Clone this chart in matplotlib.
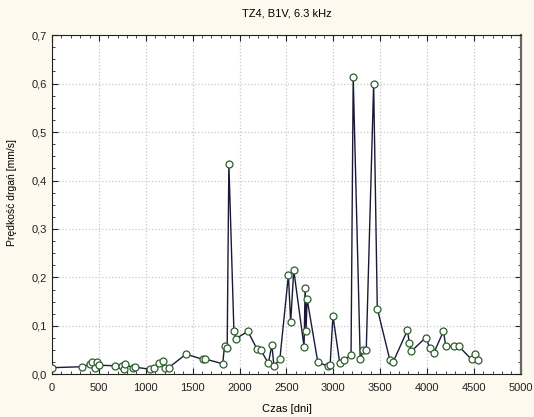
import matplotlib
matplotlib.use('Agg')
import matplotlib.pyplot as plt
from matplotlib.ticker import MultipleLocator, FuncFormatter

# data
czas = [0, 324, 400, 424, 460, 485, 499, 674, 745, 763, 781, 859, 884,
        1041, 1084, 1144, 1184, 1209, 1244, 1430, 1610, 1633, 1820, 1840,
        1868, 1886, 1940, 1963, 2089, 2184, 2228, 2307, 2345, 2367, 2430,
        2521, 2545, 2578, 2688, 2699, 2709, 2720, 2834, 2938, 2966, 2996,
        3068, 3109, 3189, 3212, 3287, 3319, 3351, 3430, 3469, 3604, 3636,
        3790, 3811, 3832, 3986, 4029, 4071, 4174, 4200, 4289, 4339, 4474,
        4513, 4542]
predkosc = [0.014, 0.016, 0.021, 0.026, 0.013, 0.026, 0.019, 0.018, 0.018,
            0.011, 0.021, 0.014, 0.015, 0.011, 0.014, 0.023, 0.028, 0.014,
            0.014, 0.042, 0.031, 0.032, 0.022, 0.059, 0.055, 0.435, 0.089,
            0.074, 0.089, 0.053, 0.050, 0.023, 0.061, 0.017, 0.032, 0.205,
            0.108, 0.215, 0.057, 0.179, 0.090, 0.156, 0.026, 0.017, 0.020,
            0.121, 0.024, 0.029, 0.040, 0.613, 0.031, 0.050, 0.050, 0.599,
            0.136, 0.029, 0.025, 0.091, 0.065, 0.048, 0.076, 0.055, 0.044,
            0.089, 0.058, 0.058, 0.058, 0.031, 0.043, 0.029]

plt.rcParams['font.family'] = ['Liberation Sans', 'DejaVu Sans']
bg = '#fdf9ef'

fig = plt.figure(figsize=(5.34, 4.17), dpi=100, facecolor=bg)
ax = fig.add_axes([0.0974, 0.102, 0.878, 0.814])
ax.set_facecolor('white')

ax.plot(czas, predkosc, color='#1a1a38', linewidth=1.0, marker='o',
        markersize=5, markerfacecolor='white', markeredgecolor='#2e5e2e',
        markeredgewidth=0.9, zorder=3)

ax.set_xlim(0, 5000)
ax.set_ylim(0, 0.7)
ax.xaxis.set_major_locator(MultipleLocator(500))
ax.xaxis.set_minor_locator(MultipleLocator(100))
ax.yaxis.set_major_locator(MultipleLocator(0.1))
ax.yaxis.set_minor_locator(MultipleLocator(0.025))
ax.yaxis.set_major_formatter(FuncFormatter(lambda v, p: ('%.1f' % v).replace('.', ',')))

ax.tick_params(which='both', direction='in', top=True, right=True,
               labelsize=8, colors='#222222')
ax.tick_params(axis='x', pad=6)
ax.tick_params(which='major', length=4, width=0.8)
ax.tick_params(which='minor', length=2, width=0.6)
ax.grid(True, which='major', color='#c8c8c8', linestyle=':', linewidth=0.9)
for s in ax.spines.values():
    s.set_color('#222222')
    s.set_linewidth(0.8)
ax.spines['right'].set_linewidth(1.6)
ax.spines['right'].set_color('#666666')

ax.set_title('TZ4, B1V, 6.3 kHz', fontsize=8, pad=13)
ax.set_xlabel('Czas [dni]', fontsize=8, labelpad=8)
ax.set_ylabel('Prędkość drgań [mm/s]', fontsize=7.5)
ax.yaxis.set_label_coords(-0.075, 0.537)

fig.savefig('out.png', dpi=100, facecolor=bg)
